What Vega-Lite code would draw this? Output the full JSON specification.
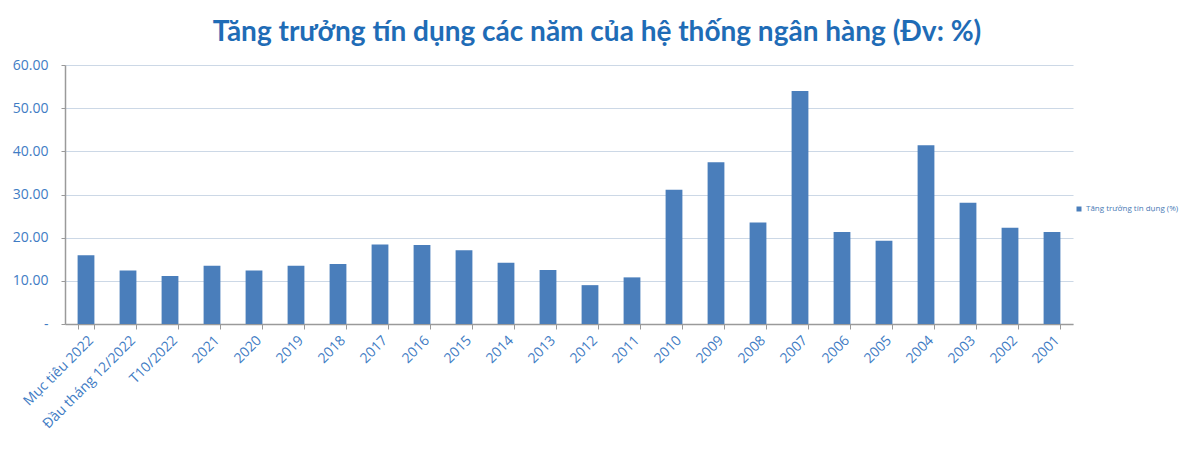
{
  "$schema": "https://vega.github.io/schema/vega-lite/v6.json",
  "description": "Tăng trưởng tín dụng các năm của hệ thống ngân hàng",
  "width": 1008,
  "height": 259,
  "autosize": {"type": "none"},
  "padding": {"left": 65, "top": 65, "right": 127, "bottom": 126},
  "background": "white",
  "title": {
    "text": "Tăng trưởng tín dụng các năm của hệ thống ngân hàng (Đv: %)",
    "font": "Lato",
    "fontSize": 28,
    "fontWeight": "bold",
    "color": "#1f6cb6",
    "anchor": "middle",
    "dx": 28,
    "offset": 11
  },
  "data": {
    "values": [
      {"Ky": "Mục tiêu 2022", "TangTruong": 15.9},
      {"Ky": "Đầu tháng 12/2022", "TangTruong": 12.4},
      {"Ky": "T10/2022", "TangTruong": 11.1},
      {"Ky": "2021", "TangTruong": 13.5},
      {"Ky": "2020", "TangTruong": 12.4},
      {"Ky": "2019", "TangTruong": 13.5},
      {"Ky": "2018", "TangTruong": 13.9},
      {"Ky": "2017", "TangTruong": 18.4},
      {"Ky": "2016", "TangTruong": 18.3},
      {"Ky": "2015", "TangTruong": 17.1},
      {"Ky": "2014", "TangTruong": 14.2},
      {"Ky": "2013", "TangTruong": 12.5},
      {"Ky": "2012", "TangTruong": 9.0},
      {"Ky": "2011", "TangTruong": 10.8},
      {"Ky": "2010", "TangTruong": 31.1},
      {"Ky": "2009", "TangTruong": 37.5},
      {"Ky": "2008", "TangTruong": 23.5},
      {"Ky": "2007", "TangTruong": 54.0},
      {"Ky": "2006", "TangTruong": 21.3},
      {"Ky": "2005", "TangTruong": 19.3},
      {"Ky": "2004", "TangTruong": 41.4},
      {"Ky": "2003", "TangTruong": 28.1},
      {"Ky": "2002", "TangTruong": 22.3},
      {"Ky": "2001", "TangTruong": 21.3}
    ]
  },
  "mark": {"type": "bar"},
  "encoding": {
    "x": {
      "field": "Ky",
      "type": "nominal",
      "sort": null,
      "title": null,
      "scale": {"paddingInner": 0.6, "paddingOuter": 0.3},
      "axis": {
        "labelAngle": -45,
        "labelFont": "Open Sans",
        "labelFontSize": 14,
        "labelColor": "#3f7cc4",
        "labelPadding": 4,
        "tickBand": "extent",
        "tickSize": 5,
        "tickColor": "#9a9a9a",
        "domainColor": "#9a9a9a",
        "domainWidth": 1.5,
        "grid": false
      }
    },
    "y": {
      "field": "TangTruong",
      "type": "quantitative",
      "title": null,
      "scale": {"domain": [0, 60]},
      "axis": {
        "values": [0, 10, 20, 30, 40, 50, 60],
        "labelExpr": "datum.value == 0 ? '-' : format(datum.value, '.2f')",
        "labelFont": "Open Sans",
        "labelFontSize": 14,
        "labelColor": "#3f7cc4",
        "labelPadding": 13,
        "tickSize": 4,
        "tickColor": "#9a9a9a",
        "domainColor": "#9a9a9a",
        "domainWidth": 1.5,
        "grid": true,
        "gridColor": "#ccd8e6",
        "gridWidth": 1.2
      }
    },
    "color": {
      "datum": "Tăng trưởng tín dụng (%)",
      "type": "nominal",
      "scale": {"range": ["#4a7ebb"]},
      "legend": {
        "title": null,
        "orient": "none",
        "legendX": 1010,
        "legendY": 140,
        "symbolType": "square",
        "symbolSize": 25,
        "labelFont": "Open Sans",
        "labelFontSize": 8,
        "labelColor": "#4a7ab5",
        "labelOffset": 3
      }
    },
    "tooltip": [
      {"field": "Ky", "title": "Kỳ"},
      {"field": "TangTruong", "title": "Tăng trưởng (%)", "format": ".2f"}
    ]
  },
  "config": {
    "view": {"stroke": null}
  }
}
